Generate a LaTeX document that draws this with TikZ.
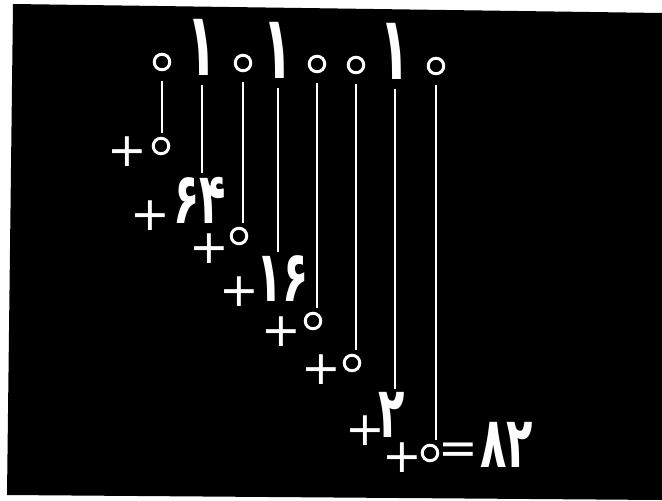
\documentclass[tikz,border=0pt]{standalone}
\usepackage{graphicx}
\usepackage{fontspec}
\newfontfamily\arabicfont[Script=Arabic]{DejaVu Sans}
\newfontfamily\plusfont{DejaVu Sans}
% schmale, hohe Ziffern
\newcommand\hochzahl[1]{\scalebox{0.82}[1.35]{#1}}
\newcommand\einszahl{\scalebox{0.8}[1.4]{۱}}
\begin{document}
\begin{tikzpicture}[x=0.02cm,y=-0.02cm,
    ziffer/.style={text=white,inner sep=0pt,font=\arabicfont\bfseries\fontsize{36}{36}\selectfont},
    wert/.style={text=white,inner sep=0pt,font=\arabicfont\bfseries\fontsize{30}{30}\selectfont},
    ring/.style={circle,draw=white,line width=1.7pt,minimum size=0.31cm,inner sep=0pt},
    plus/.style={text=white,inner sep=0pt,font=\plusfont\fontsize{27}{27}\selectfont},
    linie/.style={white,line width=1.1pt,shorten >=2pt}]
                  % Hintergrund
                  \useasboundingbox (0,0) rectangle (662,500);
                  \fill[white] (0,0) rectangle (662,500);
                  \fill[black] (13,4) -- (662,13) -- (662,500) -- (7,495) -- cycle;

                  % Binaerziffern oben
                  \node[ring] (d1) at (162,62) {};
                  \node[ziffer] (d2) at (202,47) {\einszahl};
                  \node[ring] (d3) at (243,63) {};
                  \node[ziffer] (d4) at (278,50) {\einszahl};
                  \node[ring] (d5) at (317,64) {};
                  \node[ring] (d6) at (356,65) {};
                  \node[ziffer] (d7) at (395,51) {\einszahl};
                  \node[ring] (d8) at (436,66) {};

                  % Summanden
                  \node[ring] (t1) at (161,146) {};
                  \node[wert] (t2) at (200,200) {\hochzahl{۶۴}};
                  \node[ring] (t3) at (239,236) {};
                  \node[wert] (t4) at (283,279) {\hochzahl{۱۶}};
                  \node[ring] (t5) at (313,321) {};
                  \node[ring] (t6) at (352,363) {};
                  \node[wert] (t7) at (392,415) {\hochzahl{۲}};
                  \node[ring] (t8) at (430,453) {};

                  % Pluszeichen
                  \node[plus] (p1) at (127,152) {+};
                  \node[plus] (p2) at (150,216) {+};
                  \node[plus] (p3) at (209,249) {+};
                  \node[plus] (p4) at (239,292) {+};
                  \node[plus] (p5) at (281,332) {+};
                  \node[plus] (p6) at (321,370) {+};
                  \node[plus] (p7) at (365,431) {+};
                  \node[plus] (p8) at (402,458) {+};

                  % Ergebnis
                  \node[plus] (gl) at (458,454) {=};
                  \node[wert] (erg) at (507,445) {\hochzahl{۸۲}};

                  % Verbindungslinien
                  \foreach \i in {1,...,8} {
                          \draw[linie] ([yshift=-5.5pt]d\i.south) -- (d\i.south |- t\i.north);
                      }
              \end{tikzpicture}
\end{document}
